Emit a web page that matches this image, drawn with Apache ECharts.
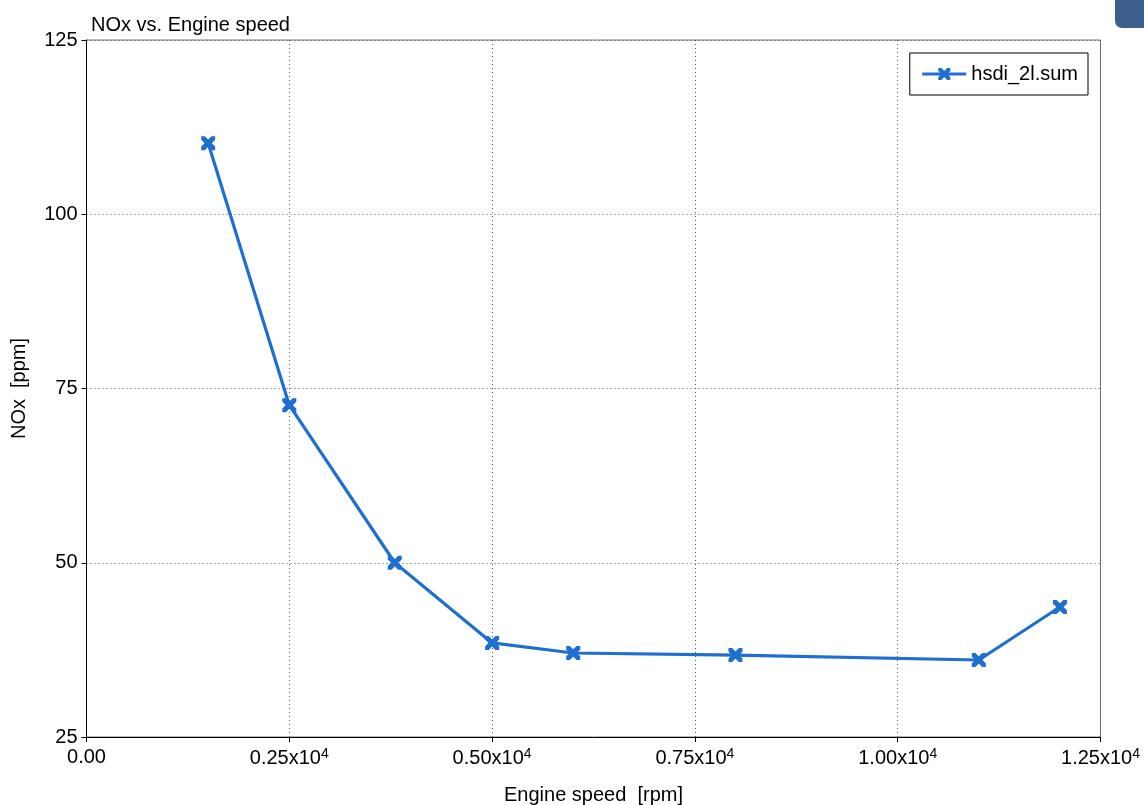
<!DOCTYPE html>
<html><head><meta charset="utf-8">
<script src="https://cdn.jsdelivr.net/npm/echarts@6/dist/echarts.min.js"></script>
<style>html,body{margin:0;padding:0;background:#fff}#c{width:1144px;height:805px}</style>
</head><body><div id="c"></div>
<script>
const speeds = [1500, 2500, 3800, 5000, 6000, 8000, 11000, 12000];
const nox = [110.2, 72.6, 50.0, 38.5, 37.05, 36.75, 36.05, 43.65];
const seriesName = 'hsdi_2l.sum';
const title = 'NOx vs. Engine speed';
const xName = 'Engine speed  [rpm]';
const yName = 'NOx  [ppm]';

const F = 'Liberation Sans, Arial, sans-serif';
const FS = 20;
const xSym = 'path://M0,0 L2.6,0 L5,2.4 L7.4,0 L10,0 L10,2.6 L7.6,5 L10,7.4 L10,10 L7.4,10 L5,7.6 L2.6,10 L0,10 L0,7.4 L2.4,5 L0,2.6 Z';
const chart = echarts.init(document.getElementById('c'));
chart.setOption({
  animation: false,
  backgroundColor: '#fff',
  title: { text: title, left: 86, top: 10, textStyle: { fontFamily: F, fontSize: FS, fontWeight: 'normal', color: '#000' } },
  graphic: [{ type: 'rect', shape: { x: 1115, y: -10, width: 60, height: 38, r: 7 }, style: { fill: '#3d5f8e' } }],
  legend: {
    right: 56, top: 53, orient: 'vertical',
    borderColor: '#000', borderWidth: 1, padding: [11, 10, 11, 11],
    itemWidth: 44, itemHeight: 15, itemGap: 8,
    lineStyle: { width: 3 },
    textStyle: { fontFamily: F, fontSize: FS, color: '#000' },
    data: [seriesName]
  },
  grid: { left: 86.5, right: 43.5, top: 40, bottom: 68, show: true, borderColor: '#777', borderWidth: 1, outerBoundsMode: 'none', containLabel: false },
  xAxis: {
    type: 'value', min: 0, max: 12500, interval: 2500,
    name: xName, nameLocation: 'middle', nameGap: 48,
    nameTextStyle: { fontFamily: F, fontSize: FS, color: '#000' },
    axisLine: { lineStyle: { color: '#000', width: 1 } },
    axisTick: { length: 5, lineStyle: { color: '#000' } },
    splitLine: { show: true, lineStyle: { color: '#555', type: [1, 3], width: 1 } },
    axisLabel: {
      margin: 10, color: '#000', fontFamily: F, fontSize: FS,
      formatter: v => v === 0 ? '0.00' : (v / 1e4).toFixed(2) + 'x10{sup|4}',
      rich: { sup: { fontSize: 14, verticalAlign: 'top', padding: [0, 0, 8, 0], fontFamily: F, color: '#000' } }
    }
  },
  yAxis: {
    type: 'value', min: 25, max: 125, interval: 25,
    name: yName, nameLocation: 'middle', nameGap: 57, nameRotate: 90,
    nameTextStyle: { fontFamily: F, fontSize: FS, color: '#000' },
    axisLine: { show: true, lineStyle: { color: '#000', width: 1 } },
    axisTick: { show: true, length: 5, lineStyle: { color: '#000' } },
    splitLine: { show: true, lineStyle: { color: '#555', type: [1, 3], width: 1 } },
    axisLabel: { margin: 9, color: '#000', fontFamily: F, fontSize: FS }
  },
  series: [{
    name: seriesName, type: 'line',
    data: speeds.map((s, i) => [s, nox[i]]),
    symbol: xSym, symbolSize: 14,
    lineStyle: { color: '#1f6fd1', width: 3.2 },
    itemStyle: { color: '#1f6fd1' }
  }]
});
</script></body></html>
